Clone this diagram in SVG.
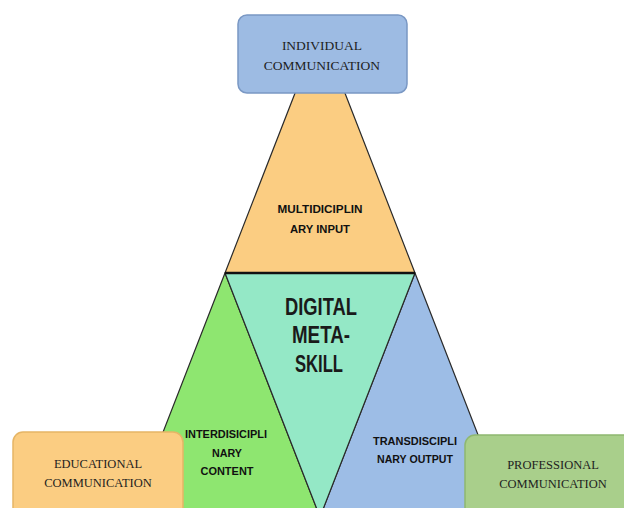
<svg xmlns="http://www.w3.org/2000/svg" width="624" height="508" viewBox="0 0 624 508">
<style>
.tri{stroke:#2a2a2a;stroke-width:1.2;stroke-linejoin:round}
.box{stroke-width:1.5}
.serif{font-family:"Liberation Serif","Times New Roman",serif;font-size:12.5px;fill:#1e1e1e;text-anchor:middle}
.lab{font-family:"Liberation Sans",Arial,sans-serif;font-weight:bold;font-size:10.5px;fill:#111;text-anchor:middle}
.big{font-family:"Liberation Sans",Arial,sans-serif;font-weight:bold;font-size:23px;fill:#1a1a1a;text-anchor:middle}
</style>
<rect width="624" height="508" fill="#ffffff"/>
<g id="multidisciplinary">
<polygon class="tri" points="320,29 415,273 225,273" fill="#fbcd82"/>
<text class="lab" x="320" y="213" textLength="85" lengthAdjust="spacingAndGlyphs">MULTIDICIPLIN</text>
<text class="lab" x="320" y="233" textLength="60" lengthAdjust="spacingAndGlyphs">ARY INPUT</text>
</g>
<g id="interdisciplinary">
<polygon class="tri" points="225,273 320,517 130,517" fill="#8ee670"/>
<text class="lab" x="226" y="438" textLength="82" lengthAdjust="spacingAndGlyphs">INTERDISICIPLI</text>
<text class="lab" x="227" y="457" textLength="30" lengthAdjust="spacingAndGlyphs">NARY</text>
<text class="lab" x="227" y="475" textLength="53" lengthAdjust="spacingAndGlyphs">CONTENT</text>
</g>
<g id="transdisciplinary">
<polygon class="tri" points="415,273 510,517 320,517" fill="#9dbde6"/>
<text class="lab" x="415" y="445" textLength="84" lengthAdjust="spacingAndGlyphs">TRANSDISCIPLI</text>
<text class="lab" x="415" y="463" textLength="76" lengthAdjust="spacingAndGlyphs">NARY OUTPUT</text>
</g>
<g id="digital-meta-skill">
<polygon class="tri" points="225,273 415,273 320,517" fill="#94e8c6"/>
<line x1="225" y1="273" x2="415" y2="273" stroke="#111" stroke-width="2.5"/>
<text class="big" x="321" y="315" textLength="72" lengthAdjust="spacingAndGlyphs">DIGITAL</text>
<text class="big" x="321" y="343" textLength="58" lengthAdjust="spacingAndGlyphs">META-</text>
<text class="big" x="319" y="372" textLength="48" lengthAdjust="spacingAndGlyphs">SKILL</text>
</g>
<g id="individual-communication">
<rect class="box" x="238" y="15" width="169" height="78" rx="9" fill="#9dbbe3" stroke="#7a98c4"/>
<text class="serif" x="322" y="50" style="font-size:13.5px">INDIVIDUAL</text>
<text class="serif" x="322" y="70" style="font-size:13.5px">COMMUNICATION</text>
</g>
<g id="educational-communication">
<rect class="box" x="13" y="432" width="170" height="90" rx="10" fill="#fbcd82" stroke="#e6b565"/>
<text class="serif" x="98" y="468">EDUCATIONAL</text>
<text class="serif" x="98" y="487">COMMUNICATION</text>
</g>
<g id="professional-communication">
<rect class="box" x="465" y="435" width="175" height="90" rx="10" fill="#a9cf8b" stroke="#8fb870"/>
<text class="serif" x="553" y="469">PROFESSIONAL</text>
<text class="serif" x="553" y="488">COMMUNICATION</text>
</g>
<g id="connectors"></g>
</svg>
